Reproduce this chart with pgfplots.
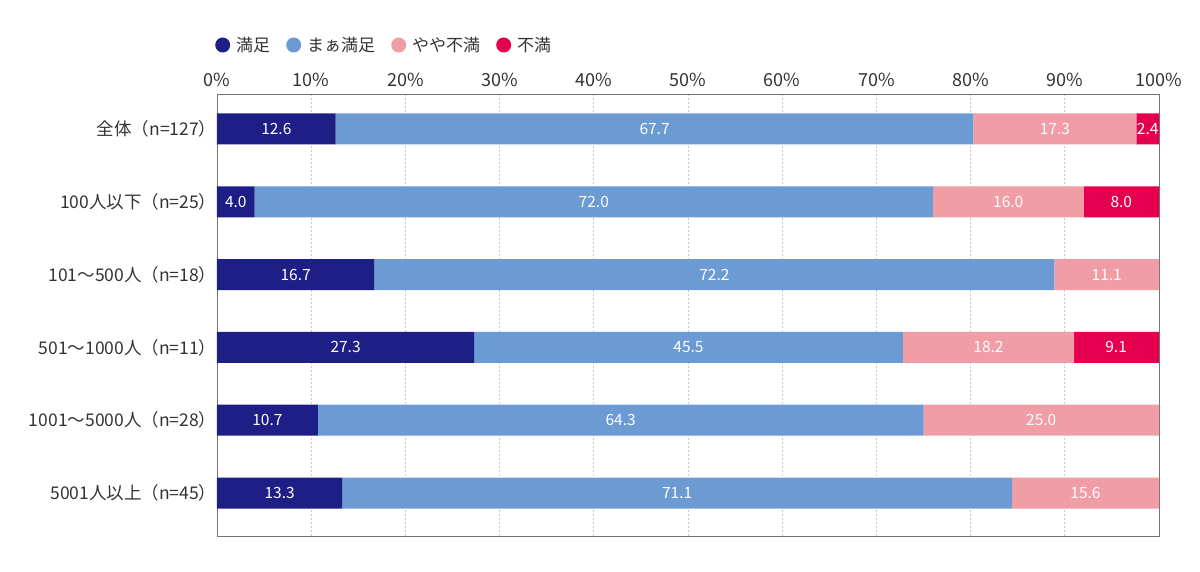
\documentclass[border=0pt]{standalone}
\usepackage{fontspec}
\setmainfont{Noto Sans CJK JP}
\usepackage{pgfplots}
\usepackage{pgfplotstable}
\pgfplotsset{compat=1.18}
\definecolor{c1}{HTML}{1E1E87}
\definecolor{c2}{HTML}{6B9BD2}
\definecolor{c3}{HTML}{F19DA6}
\definecolor{c4}{HTML}{E4004F}
\definecolor{txt}{HTML}{333333}
% label positions (segment centres) and values
\pgfplotstableread{
x y lab
6.3 0 12.6
46.45 0 67.7
88.95 0 17.3
98.8 0 2.4
2.0 1 4.0
40.0 1 72.0
84.0 1 16.0
96.0 1 8.0
8.35 2 16.7
52.8 2 72.2
94.45 2 11.1
13.65 3 27.3
50.05 3 45.5
81.9 3 18.2
95.45 3 9.1
5.35 4 10.7
42.85 4 64.3
87.5 4 25.0
6.65 5 13.3
48.85 5 71.1
92.2 5 15.6
}\labels
\pgfplotsset{common/.style={
  at={(217pt,36pt)}, anchor=south west,
  width=942pt, height=442pt, scale only axis,
  xmin=0, xmax=100, ymin=-0.48, ymax=5.59, y dir=reverse,
  /pgf/number format/assume math mode=true,
}}
\begin{document}
\begin{tikzpicture}
\useasboundingbox (0pt,0pt) rectangle (1200pt,572pt);
\begin{axis}[
  common,
  xbar stacked, bar width=31pt,
  xtick={0,10,...,100},
  xticklabel={\pgfmathprintnumber{\tick}\%},
  xticklabel pos=upper,
  ytick={0,...,5},
  yticklabels={全体（n=127）,100人以下（n=25）,101〜500人（n=18）,501〜1000人（n=11）,1001〜5000人（n=28）,5001人以上（n=45）},
  major tick length=0pt,
  xmajorgrids,
  grid style={dash pattern=on 2pt off 2pt, color=black!20, line width=0.8pt},
  axis line style={color=black!55, line width=0.9pt},
  x tick label style={font=\fontsize{18}{21}\selectfont, text=txt, yshift=4pt},
  y tick label style={font=\fontsize{17.5}{20}\selectfont, text=txt, xshift=3pt},
  legend image code/.code={\fill[#1] (0pt,0pt) circle (7.5pt); \path (11.5pt,0pt);},
  legend style={at={(0,1)}, anchor=west, yshift=49pt, xshift=-5pt,
    draw=none, fill=none, font=\fontsize{17}{20}\selectfont, text=txt,
    legend columns=-1,
    /tikz/every even column/.append style={column sep=14pt}},
]
\addplot[fill=c1, draw=none] coordinates {(12.6,0) (4.0,1) (16.7,2) (27.3,3) (10.7,4) (13.3,5)};
\addplot[fill=c2, draw=none] coordinates {(67.7,0) (72.0,1) (72.2,2) (45.5,3) (64.3,4) (71.1,5)};
\addplot[fill=c3, draw=none] coordinates {(17.3,0) (16.0,1) (11.1,2) (18.2,3) (25.0,4) (15.6,5)};
\addplot[fill=c4, draw=none] coordinates {(2.4,0) (8.0,1) (0,2) (9.1,3) (0,4) (0,5)};
\legend{満足,まぁ満足,やや不満,不満}
\end{axis}
\begin{axis}[common, hide axis]
\addplot[only marks, mark=none, nodes near coords, point meta=explicit symbolic,
  every node near coord/.append style={anchor=center, text=white,
    font=\fontsize{15.5}{18}\selectfont}]
  table[x=x, y=y, meta=lab] {\labels};
\end{axis}
\end{tikzpicture}
\end{document}
